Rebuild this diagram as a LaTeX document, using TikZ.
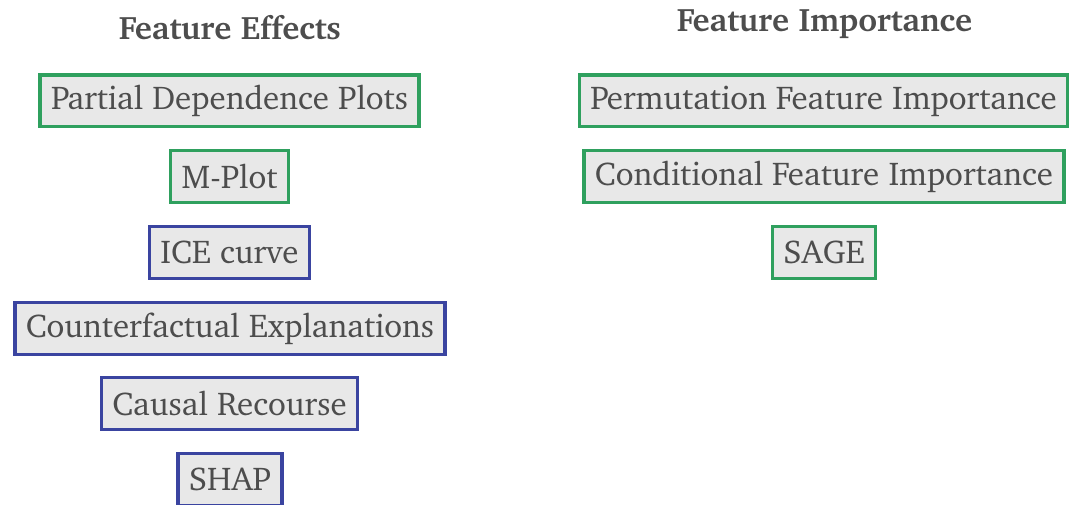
\documentclass[tikz,border=0pt]{standalone}
\usepackage[T1]{fontenc}
\usepackage{charter}
\definecolor{txtgray}{HTML}{4D4D4D}
\definecolor{boxfill}{HTML}{E8E8E8}
\definecolor{greenline}{HTML}{2FA05E}
\definecolor{blueline}{HTML}{3A44A0}
\tikzset{
  item/.style={draw, line width=3.4pt, fill=boxfill, text=txtgray, inner xsep=11pt, inner ysep=0pt,
    minimum height=51.6pt, font=\fontsize{33}{36}\selectfont},
  greenitem/.style={item, draw=greenline},
  blueitem/.style={item, draw=blueline},
  title/.style={text=txtgray, font=\fontsize{32.5}{36}\selectfont\bfseries}
}
\begin{document}
\begin{tikzpicture}[x=1pt,y=-1pt]
\useasboundingbox (0,0) rectangle (1070,505);
\node[title] (fe) at (230,27) {Feature Effects};
\node[title] (fi) at (824.5,24) {Feature Importance};
\node[greenitem] (pdp) at (229.5,101) {Partial Dependence Plots};
\node[greenitem] (mplot) at (229.5,176.5) {M-Plot};
\node[blueitem] (ice) at (229.5,252.5) {ICE curve};
\node[blueitem] (cf) at (230,328.5) {Counterfactual Explanations};
\node[blueitem] (cr) at (229.5,403.5) {Causal Recourse};
\node[blueitem] (shap) at (230,479.5) {SHAP};
\node[greenitem] (pfi) at (823.5,101) {Permutation Feature Importance};
\node[greenitem] (cfi) at (824,176.5) {Conditional Feature Importance};
\node[greenitem] (sage) at (824,252.5) {SAGE};
\end{tikzpicture}
\end{document}
